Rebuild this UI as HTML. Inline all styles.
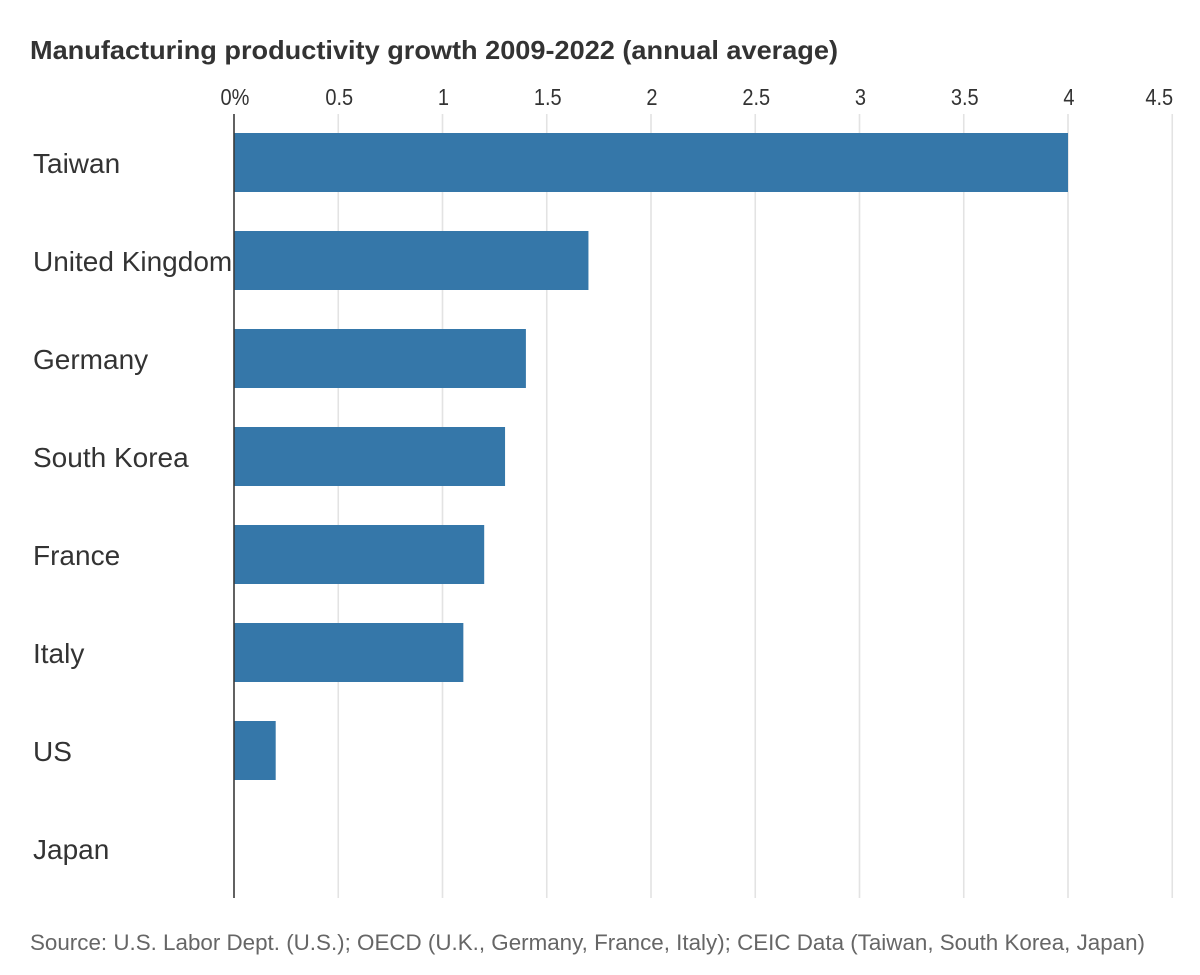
<!DOCTYPE html>
<html>
<head>
<meta charset="utf-8">
<style>
html,body{margin:0;padding:0;background:#fff;width:1200px;height:975px;overflow:hidden}
svg{display:block}
text{font-family:"Liberation Sans",sans-serif}
</style>
</head>
<body>
<svg id="chart" width="1200" height="975" viewBox="0 0 1200 975" xmlns="http://www.w3.org/2000/svg">
  <text x="30" y="59" font-size="26" font-weight="700" fill="#333" textLength="808" lengthAdjust="spacingAndGlyphs">Manufacturing productivity growth 2009-2022 (annual average)</text>
  <g id="grid"></g>
  <g id="ticks"></g>
  <g id="bars"></g>
  <g id="labels"></g>
  <line id="axis" stroke="#3a3a3a" stroke-width="1.6"></line>
  <text x="30" y="950" font-size="22" fill="#666" textLength="1115" lengthAdjust="spacingAndGlyphs">Source: U.S. Labor Dept. (U.S.); OECD (U.K., Germany, France, Italy); CEIC Data (Taiwan, South Korea, Japan)</text>
</svg>
<script>
const categories = ['Taiwan','United Kingdom','Germany','South Korea','France','Italy','US','Japan'];
const values = [4, 1.7, 1.4, 1.3, 1.2, 1.1, 0.2, 0];
const tickValues = [0, 0.5, 1, 1.5, 2, 2.5, 3, 3.5, 4, 4.5];
const tickLabels = ['0%','0.5','1','1.5','2','2.5','3','3.5','4','4.5'];

const NS = 'http://www.w3.org/2000/svg';
const plotLeft = 234, unitWidth = 208.5;
const plotTop = 114, plotBottom = 898;
const bandTop = 113.5, bandStep = 98, barHeight = 59;

function xScale(v){ return plotLeft + v * unitWidth; }
function yCenter(i){ return bandTop + bandStep * i + bandStep / 2; }
function make(tag, attrs, parent){
  const el = document.createElementNS(NS, tag);
  for (const k in attrs) el.setAttribute(k, attrs[k]);
  parent.appendChild(el);
  return el;
}

const grid = document.getElementById('grid');
const ticks = document.getElementById('ticks');
tickValues.forEach(function(v, i){
  if (v !== 0) {
    const g = make('line', {x1:xScale(v), x2:xScale(v), y1:plotTop, y2:plotBottom, stroke:'#e3e3e3', 'stroke-width':1.6}, grid);
    
    
  }
  const isLast = i === tickLabels.length - 1;
  const t = make('text', {x:xScale(v), y:105, 'font-size':23, fill:'#333', 'text-anchor':'middle'}, ticks);
  t.setAttribute('transform', 'translate(' + (xScale(v) * 0.13 + (isLast ? -13 : 1)) + ' 0) scale(0.87 1)');
  
  
  t.textContent = tickLabels[i];
});

const bars = document.getElementById('bars');
const labels = document.getElementById('labels');
categories.forEach(function(c, i){
  const r = make('rect', {x:plotLeft, y:yCenter(i) - barHeight / 2, width:xScale(values[i]) - plotLeft, height:barHeight, fill:'#3577a9'}, bars);
  
  
  const t = make('text', {x:33, y:yCenter(i) + 10.5, 'font-size':28, fill:'#333'}, labels);
  
  
  t.textContent = c;
});

const axis = document.getElementById('axis');
axis.setAttribute('x1', plotLeft);
axis.setAttribute('x2', plotLeft);
axis.setAttribute('y1', plotTop);
axis.setAttribute('y2', plotBottom);
</script>
</body>
</html>
